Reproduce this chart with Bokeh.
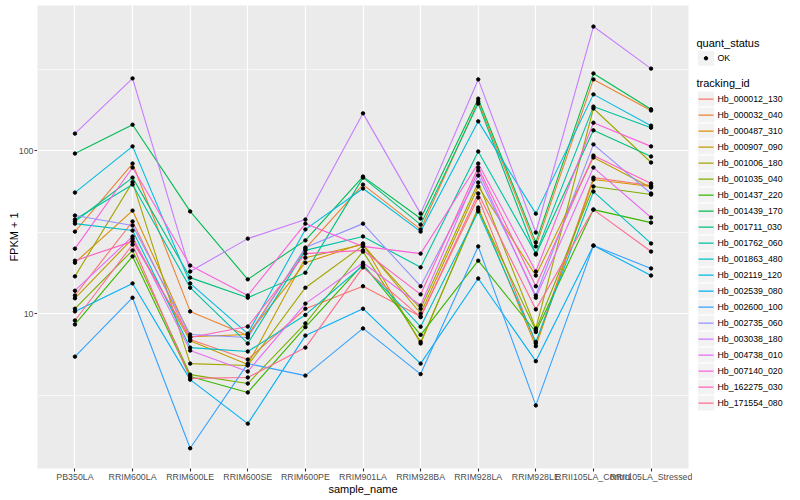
import math
from bokeh.plotting import figure
from bokeh.layouts import row
from bokeh.models import Range1d, FixedTicker
from bokeh.embed import file_html
from bokeh.resources import INLINE
from bokeh.core.properties import value

FONT = "Liberation Sans"

samples = ["PB350LA", "RRIM600LA", "RRIM600LE", "RRIM600SE", "RRIM600PE", "RRIM901LA",
           "RRIM928BA", "RRIM928LA", "RRIM928LE", "RRII105LA_Control", "RRII105LA_Stressed"]

tracking_ids = ["Hb_000012_130", "Hb_000032_040", "Hb_000487_310", "Hb_000907_090",
                "Hb_001006_180", "Hb_001035_040", "Hb_001437_220", "Hb_001439_170",
                "Hb_001711_030", "Hb_001762_060", "Hb_001863_480", "Hb_002119_120",
                "Hb_002539_080", "Hb_002600_100", "Hb_002735_060", "Hb_003038_180",
                "Hb_004738_010", "Hb_007140_020", "Hb_162275_030", "Hb_171554_080"]

colors = ["#F8766D", "#EA8331", "#D89000", "#C09B00", "#A3A500", "#7CAE00", "#39B600",
          "#00BB4E", "#00BF7D", "#00C1A3", "#00BFC4", "#00BAE0", "#00B0F6", "#35A2FF",
          "#9590FF", "#C77CFF", "#E76BF3", "#FA62DB", "#FF62BC", "#FF6C91"]

y_ticks = [10, 100]
y_tick_labels = ["10", "100"]
y_minor = [3.1623, 31.623, 316.23]

# FPKM + 1 per sample (order of `samples`)
hb_000012_130 = [12.9, 36.7, 6.92, 5.22, 10.7, 14.7, 9.6, 51.5, 6.55, 68.2, 61.0]
hb_000032_040 = [31.8, 83.2, 10.3, 7.32, 25.0, 61.8, 32.8, 200, 25.8, 273, 176]
hb_000487_310 = [20.5, 42.8, 7.2, 7.43, 20.5, 26.9, 6.55, 44.7, 6.3, 66.4, 60.2]
hb_000907_090 = [12.4, 28.8, 6.8, 4.86, 22.0, 26.5, 10.0, 60.2, 17.1, 90.6, 59.3]
hb_001006_180 = [16.9, 64.0, 4.93, 4.80, 14.4, 26.1, 10.7, 63.7, 8.1, 181, 84.4]
hb_001035_040 = [10.7, 24.4, 4.22, 3.72, 8.7, 24.0, 6.7, 43.4, 7.9, 60.2, 53.7]
hb_001437_220 = [8.57, 22.4, 4.11, 3.28, 8.25, 20.0, 7.4, 21.1, 7.7, 43.4, 36.1]
hb_001439_170 = [95.8, 144, 42.3, 16.2, 28.1, 69.2, 38.3, 208, 27.3, 297, 179]
hb_001711_030 = [36.7, 68.2, 16.6, 12.5, 17.8, 68.2, 35.1, 194, 23.0, 133, 91.9]
hb_001762_060 = [37.7, 61.8, 14.4, 6.55, 24.4, 29.7, 19.2, 98.6, 23.3, 186, 138]
hb_001863_480 = [35.6, 32.3, 6.18, 5.85, 9.8, 19.7, 8.3, 42.3, 6.7, 56.0, 26.9]
hb_002119_120 = [55.2, 106, 15.3, 7.53, 32.8, 58.5, 31.8, 151, 41.0, 221, 142]
hb_002539_080 = [10.3, 15.3, 3.93, 2.11, 7.32, 10.7, 4.93, 16.4, 5.1, 26.1, 17.1]
hb_002600_100 = [5.44, 12.5, 1.49, 4.93, 4.16, 8.1, 4.25, 25.8, 2.73, 26.1, 18.9]
hb_002735_060 = [39.9, 34.7, 7.43, 7.12, 25.4, 35.6, 14.7, 70.3, 12.9, 109, 54.5]
hb_003038_180 = [127, 277, 18.1, 28.8, 37.7, 169, 41.0, 273, 31.4, 576, 318]
hb_004738_010 = [13.8, 29.7, 5.93, 4.41, 11.5, 20.5, 11.2, 75.4, 12.5, 78.6, 38.8]
hb_007140_020 = [25.0, 78.6, 19.7, 12.9, 35.6, 25.8, 23.3, 83.2, 18.1, 148, 106]
hb_162275_030 = [21.1, 27.7, 7.12, 8.32, 23.3, 24.4, 13.1, 78.6, 14.7, 93.1, 62.8]
hb_171554_080 = [9.06, 26.5, 4.0, 4.05, 6.18, 19.2, 9.5, 54.5, 10.6, 43.4, 24.0]

series = [hb_000012_130, hb_000032_040, hb_000487_310, hb_000907_090, hb_001006_180,
          hb_001035_040, hb_001437_220, hb_001439_170, hb_001711_030, hb_001762_060,
          hb_001863_480, hb_002119_120, hb_002539_080, hb_002600_100, hb_002735_060,
          hb_003038_180, hb_004738_010, hb_007140_020, hb_162275_030, hb_171554_080]

xs = list(range(len(samples)))

H = 500
TOP = 5
BOTTOM = 32
y_lo, y_hi = 1.120, 775.5
yr = Range1d(y_lo, y_hi)

# ---- left strip: y tick labels, ticks and y title ----
left = figure(width=37, height=H, x_range=Range1d(0, 37), y_range=yr, y_axis_type="log",
              output_backend="svg", toolbar_location=None,
              min_border_left=0, min_border_right=0, min_border_top=TOP,
              min_border_bottom=BOTTOM, x_axis_location=None, y_axis_location=None,
              background_fill_color="white", border_fill_color="white",
              outline_line_color=None)
left.grid.visible = False
left.text(x=[33] * len(y_ticks), y=y_ticks, text=y_tick_labels, text_align="right",
          text_baseline="middle", text_font=value(FONT), text_font_size="8.8px",
          text_color="#4D4D4D")
left.segment(x0=[34] * len(y_ticks), x1=[37] * len(y_ticks), y0=y_ticks, y1=y_ticks,
             line_color="#333333", line_width=1.1)
y_mid = 10 ** ((math.log10(y_lo) + math.log10(y_hi)) / 2)
left.text(x=[13], y=[y_mid], text=["FPKM + 1"], angle=math.pi / 2, text_align="center",
          text_baseline="middle", text_font=value(FONT), text_font_size="11px",
          text_color="black")

# ---- main panel ----
p = figure(width=655, height=H, x_range=Range1d(-0.65, 10.65), y_range=yr,
           y_axis_type="log", output_backend="svg", toolbar_location=None,
           y_axis_location=None,
           min_border_left=0, min_border_right=4, min_border_top=TOP,
           min_border_bottom=BOTTOM,
           background_fill_color="#EBEBEB", border_fill_color="white",
           outline_line_color=None)

p.xgrid.ticker = FixedTicker(ticks=xs)
p.xgrid.grid_line_color = "white"
p.xgrid.grid_line_width = 1.2
p.ygrid.ticker = FixedTicker(ticks=y_ticks, minor_ticks=y_minor)
p.ygrid.grid_line_color = "white"
p.ygrid.grid_line_width = 1.2
p.ygrid.minor_grid_line_color = "white"
p.ygrid.minor_grid_line_width = 0.6

ax = p.xaxis
ax.ticker = FixedTicker(ticks=xs)
ax.major_label_overrides = {i: s for i, s in enumerate(samples)}
ax.axis_line_color = None
ax.major_tick_line_color = "#333333"
ax.major_tick_line_width = 1.1
ax.major_tick_out = 3
ax.major_tick_in = 0
ax.minor_tick_line_color = None
ax.major_label_text_color = "#4D4D4D"
ax.major_label_text_font_size = "8.8px"
ax.major_label_text_font = FONT
ax.major_label_standoff = 0
ax.axis_label = "sample_name"
ax.axis_label_text_font_size = "11px"
ax.axis_label_text_font = FONT
ax.axis_label_text_font_style = "normal"
ax.axis_label_text_color = "black"
ax.axis_label_standoff = -2

for vals, c in zip(series, colors):
    p.line(xs, vals, line_color=c, line_width=1.1)

all_x = [x for vals in series for x in xs]
all_y = [v for vals in series for v in vals]
p.scatter(all_x, all_y, size=3.4, color="black", marker="circle")

# ---- legend panel ----
LW = 108
leg = figure(width=LW, height=H, x_range=Range1d(0, LW), y_range=Range1d(H, 0),
             output_backend="svg", toolbar_location=None, min_border=0,
             x_axis_location=None, y_axis_location=None,
             background_fill_color="white", border_fill_color="white",
             outline_line_color=None)
leg.grid.visible = False

step = 17.28
y0 = 101.0
centers = [y0 + step * i for i in range(len(tracking_ids))]
kx = 13.5

leg.text(x=[4, 4], y=[40.7, 84.0], text=["quant_status", "tracking_id"],
         text_font=value(FONT), text_font_size="11px", text_baseline="middle",
         text_color="black")

leg.rect(x=[kx], y=[57.0], width=step, height=step, fill_color="#F2F2F2",
         line_color="white", line_width=1)
leg.scatter(x=[kx], y=[57.0], size=3.4, color="black", marker="circle")
leg.text(x=[25], y=[57.0], text=["OK"], text_font=value(FONT), text_font_size="8.8px",
         text_baseline="middle", text_color="black")

leg.rect(x=[kx] * len(centers), y=centers, width=step, height=step,
         fill_color="#F2F2F2", line_color="white", line_width=1)
leg.segment(x0=[kx - 7.5] * len(centers), x1=[kx + 7.5] * len(centers),
            y0=centers, y1=centers, line_color=colors, line_width=1.3)
leg.text(x=[25] * len(centers), y=centers, text=tracking_ids, text_font=value(FONT),
         text_font_size="8.8px", text_baseline="middle", text_color="black")

layout = row(left, p, leg)
open("out.html", "w").write(file_html(layout, INLINE))
